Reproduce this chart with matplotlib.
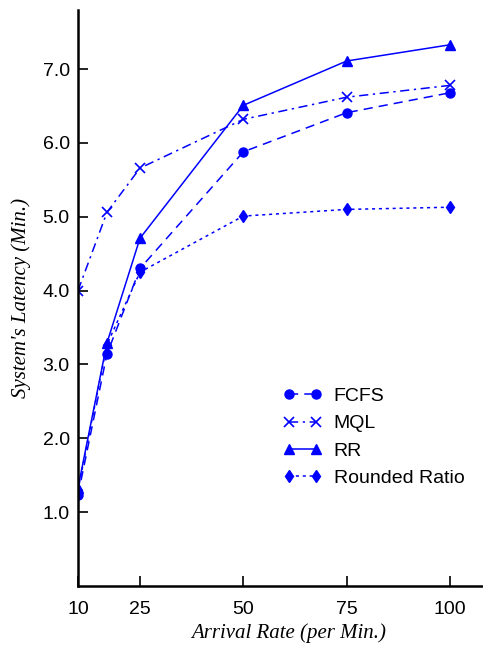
import matplotlib
matplotlib.use("Agg")
import matplotlib.pyplot as plt

rate = [10, 17, 25, 50, 75, 100]
fcfs = [1.23, 3.14, 4.30, 5.88, 6.41, 6.68]
mql = [4.00, 5.06, 5.66, 6.32, 6.62, 6.78]
rr = [1.33, 3.29, 4.71, 6.51, 7.11, 7.33]
rounded = [1.30, 3.27, 4.25, 5.01, 5.10, 5.13]

xticks = [10, 25, 50, 75, 100]
yticks = [1, 2, 3, 4, 5, 6, 7]

blue = "#0000ff"
sans = "Liberation Sans"
serif = "Liberation Serif"

fig = plt.figure(figsize=(4.83, 6.5), dpi=100)
ax = fig.add_axes([0.1615, 0.0985, 0.8385, 0.886])

ax.plot(rate, fcfs, color=blue, ls=(0, (6, 4)), lw=1.1, marker="o", ms=6.5, label="FCFS")
ax.plot(rate, mql, color=blue, ls=(0, (6, 3, 1.5, 3)), lw=1.1, marker="x", ms=6.5, mew=1.2, label="MQL")
ax.plot(rate, rr, color=blue, ls="-", lw=1.1, marker="^", ms=6.5, label="RR")
ax.plot(rate, rounded, color=blue, ls=(0, (2, 2.5)), lw=1.1, marker="d", ms=6.5, label="Rounded Ratio")

ax.set_xlim(10, 108)
ax.set_ylim(0, 7.8)
ax.set_xticks(xticks)
ax.set_xticklabels([str(v) for v in xticks], fontfamily=sans, fontsize=14)
ax.set_yticks(yticks)
ax.set_yticklabels(["%.1f" % v for v in yticks], fontfamily=sans, fontsize=14)
ax.tick_params(direction="in", length=7, width=1.2)
ax.tick_params(axis="y", pad=6)
ax.tick_params(axis="x", pad=11)

for s in ["top", "right"]:
    ax.spines[s].set_visible(False)
for s in ["left", "bottom"]:
    ax.spines[s].set_linewidth(1.8)

ax.set_xlabel("Arrival Rate (per Min.)", fontfamily=serif, fontstyle="italic", fontsize=15)
ax.xaxis.set_label_coords(0.52, -0.065)
ax.set_ylabel("System's Latency (Min.)", fontfamily=serif, fontstyle="italic", fontsize=15, labelpad=8)

leg = ax.legend(loc="upper left", bbox_to_anchor=(0.586, 0.404), bbox_transform=fig.transFigure,
                frameon=False, borderpad=0, borderaxespad=0, numpoints=2,
                prop={"family": sans, "size": 14}, handlelength=2.0, handletextpad=0.6,
                labelspacing=0.5)

fig.savefig("out.png", dpi=100)
